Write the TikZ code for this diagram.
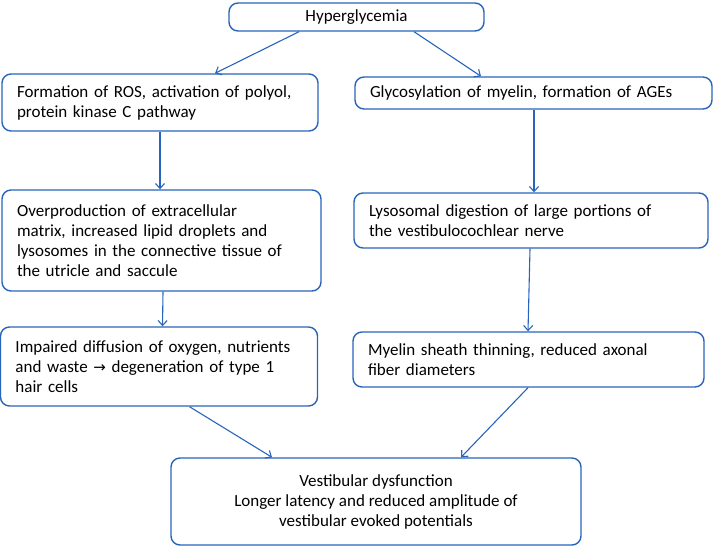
\documentclass[tikz,border=0pt]{standalone}
\usepackage{fontspec}
\setmainfont{Carlito}
\newfontfamily\symfont{DejaVu Sans}
\usetikzlibrary{arrows.meta}

\begin{document}
\begin{tikzpicture}[x=1pt, y=-1pt, >={Straight Barb[length=5pt,width=9pt]}, font=\fontsize{17}{20}\selectfont]

	% ==========================================
	% 1. COLOURS AND STYLES
	% ==========================================
	\definecolor{boxcol}{RGB}{40, 100, 185}    % blue of the frames
	\definecolor{arrcol}{RGB}{40, 100, 190}    % blue of the arrows

	\tikzset{
		stepbox/.style={draw=boxcol, line width=1.4pt, rounded corners=9pt, inner sep=0pt, align=left},
		link/.style={->, draw=arrcol, line width=1.1pt}
	}

	% fixed frame of the picture
	\useasboundingbox (0,0) rectangle (714,546);

	% ==========================================
	% 2. BOXES
	% ==========================================
	\node[stepbox, align=center, minimum width=255pt, minimum height=28pt] (hyper) at (356.5, 17) {Hyperglycemia};

	% left branch
	\node[stepbox, minimum width=316pt, minimum height=57pt, text width=286pt] (ros) at (160, 102.5)
		{Formation of ROS, activation of polyol,\\ protein kinase C pathway};
	\node[stepbox, minimum width=319pt, minimum height=101pt, text width=289pt] (matrix) at (161.5, 240.5)
		{Overproduction of extracellular\\ matrix, increased lipid droplets and\\ lysosomes in the connective tissue of\\ the utricle and saccule};
	\node[stepbox, minimum width=317pt, minimum height=79pt, text width=287pt] (diffusion) at (159, 366.5)
		{Impaired diffusion of oxygen, nutrients\\ and waste {\symfont\fontsize{15}{20}\selectfont →} degeneration of type 1\\ hair cells};

	% right branch
	\node[stepbox, minimum width=357pt, minimum height=32pt, text width=327pt] (glyco) at (533.5, 93)
		{Glycosylation of myelin, formation of AGEs};
	\node[stepbox, minimum width=354pt, minimum height=55pt, text width=324pt] (lyso) at (531, 220.5)
		{Lysosomal digestion of large portions of\\ the vestibulocochlear nerve};
	\node[stepbox, minimum width=351pt, minimum height=55pt, text width=321pt] (myelin) at (528.5, 359.5)
		{Myelin sheath thinning, reduced axonal\\ fiber diameters};

	% outcome
	\node[stepbox, align=center, minimum width=410pt, minimum height=87pt] (dysfunction) at (376, 501.5)
		{Vestibular dysfunction\\ Longer latency and reduced amplitude of\\ vestibular evoked potentials};

	% ==========================================
	% 3. ARROWS
	% ==========================================
	\draw[link] ([xshift=-57.5pt]hyper.south) -- ([xshift=55pt]ros.north);
	\draw[link] ([xshift=57.5pt]hyper.south) -- ([xshift=-52.5pt]glyco.north);

	\draw[link] (ros.south) -- ([xshift=-1.5pt]matrix.north);
	\draw[link] ([xshift=1.5pt]matrix.south) -- ([xshift=3.5pt]diffusion.north);

	\draw[link] ([xshift=0.5pt]glyco.south) -- ([xshift=3pt]lyso.north);
	\draw[link] ([xshift=-1pt]lyso.south) -- ([xshift=-0.5pt]myelin.north);

	\draw[link] ([xshift=30.5pt]diffusion.south) -- ([xshift=-104pt]dysfunction.north);
	\draw[link] ([xshift=-0.5pt]myelin.south) -- ([xshift=85pt]dysfunction.north);

\end{tikzpicture}
\end{document}
